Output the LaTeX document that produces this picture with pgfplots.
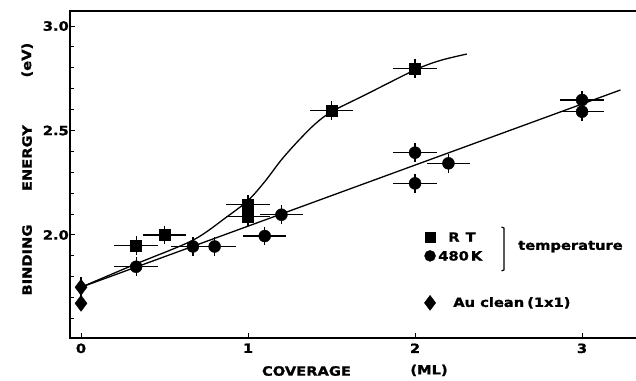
\documentclass[border=0pt]{standalone}
\usepackage{pgfplots}
\pgfplotsset{compat=1.18}
\usepackage{fontspec}
\setmainfont{DejaVu Sans}[BoldFont={DejaVu Sans Bold}]
\newfontfamily\lab{DejaVu Sans Bold}[FakeStretch=1.15,FakeBold=1.2]
\newcommand{\lf}{\lab\fontsize{12.8}{14}\selectfont}
\begin{document}
\begin{tikzpicture}
\useasboundingbox (-70bp,-43bp) rectangle (566bp,338bp);
\begin{axis}[
  at={(0bp,0bp)}, anchor=south west, scale only axis,
  width=576bp, height=327bp,
  xmin=-0.066, xmax=3.383, ymin=1.507, ymax=3.072,
  clip=false,
  axis line style={line width=1.4bp},
  xtick={0,1,2,3}, xticklabels={0,1,2,3},
  ytick={2.0,2.5,3.0}, yticklabels={2.0,2.5,3.0},
  minor ytick={1.6,1.7,1.8,1.9,2.1,2.2,2.3,2.4,2.6,2.7,2.8,2.9},
  xtick pos=left, ytick pos=left,
  tick align=inside, major tick length=5bp, minor tick length=4bp,
  tick style={line width=1bp, black},
  /pgf/number format/assume math mode=true,
  ticklabel style={font=\lf},
  xticklabel style={yshift=-2bp},
  yticklabel style={inner sep=1bp},
]
% RT curve
\addplot[line width=1.3bp, smooth, tension=0.5] coordinates {
 (0,1.75) (0.33,1.862) (0.67,1.975) (0.87,2.085) (1.0,2.165) (1.1,2.255)
 (1.2,2.36) (1.3,2.45) (1.4,2.53) (1.5,2.59) (1.7,2.67) (2.0,2.79)
 (2.15,2.835) (2.31,2.866)};
% 480 K line
\addplot[line width=1.3bp] coordinates {(0,1.75) (3.23,2.694)};
% RT squares
\addplot[only marks, mark=square*, mark size=5.5bp,
  error bars/.cd, x dir=both, x explicit, y dir=both, y explicit,
  error bar style={line width=1.2bp}, error mark=none]
 coordinates {
 (0.33,1.95) +- (0.13,0.045)
 (0.5,2.0) +- (0.13,0.045)
 (1.0,2.145) +- (0.13,0.045)
 (1.0,2.088) +- (0.13,0.045)
 (1.5,2.595) +- (0.13,0.045)
 (2.0,2.795) +- (0.13,0.045)
 };
% 480 K circles
\addplot[only marks, mark=*, mark size=6bp,
  error bars/.cd, x dir=both, x explicit, y dir=both, y explicit,
  error bar style={line width=1.2bp}, error mark=none]
 coordinates {
 (0.33,1.848) +- (0.13,0.045)
 (0.67,1.945) +- (0.13,0.045)
 (0.8,1.945) +- (0.13,0.045)
 (1.1,1.995) +- (0.13,0.045)
 (1.2,2.097) +- (0.13,0.045)
 (2.0,2.394) +- (0.13,0.045)
 (2.2,2.343) +- (0.13,0.045)
 (2.0,2.247) +- (0.13,0.045)
 (3.0,2.646) +- (0.13,0.045)
 (3.0,2.59) +- (0.13,0.045)
 };
% Au clean diamonds
\addplot[only marks, mark=diamond*, mark size=8bp,
  error bars/.cd, y dir=both, y explicit,
  error bar style={line width=1.2bp}, error mark=none]
 coordinates {(0,1.75) +- (0,0.05) (0,1.673) +- (0,0)};
% legend markers
\addplot[only marks, mark=square*, mark size=5bp] coordinates {(2.09,1.99)};
\addplot[only marks, mark=*, mark size=5.5bp] coordinates {(2.09,1.90)};
\addplot[only marks, mark=diamond*, mark size=7.5bp] coordinates {(2.09,1.675)};
\node[anchor=west, inner sep=0pt, font=\lf] at (axis cs:2.198,1.99) {R\hspace{6bp}T};
\node[anchor=west, inner sep=0pt, font=\lf] at (axis cs:2.138,1.90) {480\hspace{2bp}K};
\node[anchor=west, inner sep=0pt, font=\lf] at (axis cs:2.228,1.675) {Au clean\hspace{3bp}(1x1)};
\node[anchor=west, inner sep=0pt, font=\lf] at (axis cs:2.617,1.944) {temperature};
\draw[line width=1.2bp] (axis cs:2.518,2.038) -- (axis cs:2.533,2.033) -- (axis cs:2.533,1.833) -- (axis cs:2.518,1.828);
% axis labels
\node[font=\lf] at (axis cs:1.35,1.349) {COVERAGE};
\node[font=\lf] at (axis cs:2.084,1.352) {(ML)};
\node[rotate=90, font=\lf] at (axis cs:-0.323,2.837) {(eV)};
\node[rotate=90, font=\lf] at (axis cs:-0.323,2.368) {ENERGY};
\node[rotate=90, font=\lf] at (axis cs:-0.323,1.880) {BINDING};
\end{axis}
\end{tikzpicture}
\end{document}
